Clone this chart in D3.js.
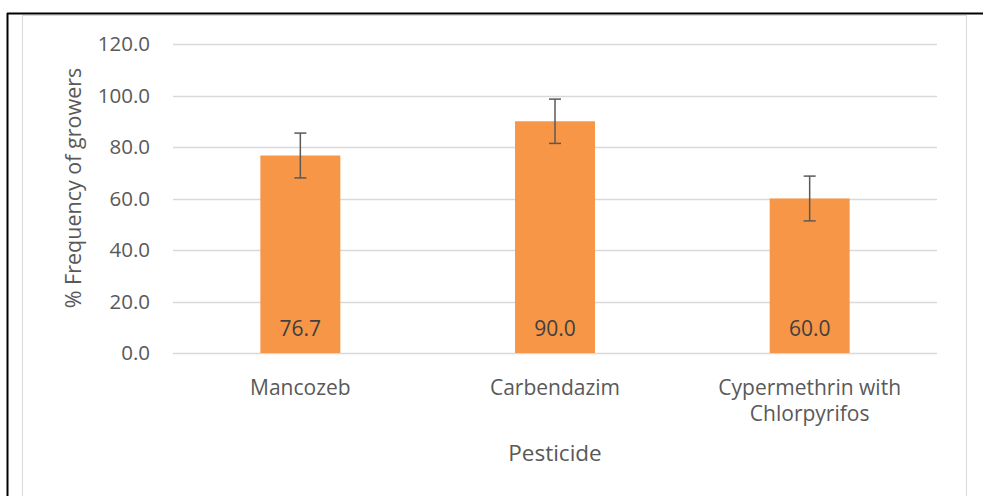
<!DOCTYPE html>
<html lang="en">

<head>
  <meta charset="utf-8">
  <title>Pesticide use</title>
  <script type="text/javascript" src="https://cdn.jsdelivr.net/npm/d3@7"></script>
  <style type="text/css">
    body { margin: 0; background: #fff; }
    text { font-family: "Open Sans", sans-serif; fill: #595959; }
  </style>
</head>

<body>
  <script type="text/javascript">

    // Data
    const pesticides = ["Mancozeb", "Carbendazim", "Cypermethrin with Chlorpyrifos"];
    const frequency = [76.7, 90.0, 60.0];
    const errors = [8.7, 8.6, 8.7];
    const yTicks = [0, 20, 40, 60, 80, 100, 120];

    const w = 983;
    const h = 496;

    const svg = d3.select("body")
      .append("svg")
      .attr("width", w)
      .attr("height", h);

    // table border lines
    svg.append("line")
      .attr("x1", 7).attr("x2", w).attr("y1", 13.5).attr("y2", 13.5)
      .attr("stroke", "#000").attr("stroke-width", 2);
    svg.append("line")
      .attr("x1", 7.5).attr("x2", 7.5).attr("y1", 13).attr("y2", h)
      .attr("stroke", "#000").attr("stroke-width", 2);

    // chart area border
    svg.append("rect")
      .attr("x", 22.5).attr("y", 15.5)
      .attr("width", 944).attr("height", h)
      .attr("fill", "none")
      .attr("stroke", "#d9d9d9");

    const left = 173, right = 937;
    const x = d3.scaleBand()
      .domain(pesticides)
      .range([left, right])
      .paddingInner(0.686)
      .paddingOuter(0.343);

    const y = d3.scaleLinear()
      .domain([0, 120])
      .range([353, 44]);

    // gridlines
    svg.append("g")
      .selectAll("line")
      .data(yTicks)
      .enter()
      .append("line")
      .attr("x1", left).attr("x2", right)
      .attr("y1", function (d) { return Math.round(y(d)) + 0.5; })
      .attr("y2", function (d) { return Math.round(y(d)) + 0.5; })
      .attr("stroke", "#d9d9d9")
      .attr("stroke-width", 1.3);

    // y tick labels
    svg.append("g")
      .selectAll("text")
      .data(yTicks)
      .enter()
      .append("text")
      .attr("x", 150)
      .attr("y", function (d) { return y(d); })
      .attr("dy", "0.36em")
      .attr("text-anchor", "end")
      .style("font-size", "20.5px")
      .text(function (d) { return d.toFixed(1); });

    // bars
    const rows = pesticides.map(function (p, i) {
      return { name: p, value: frequency[i], err: errors[i] };
    });

    svg.append("g")
      .selectAll("rect")
      .data(rows)
      .enter()
      .append("rect")
      .attr("x", function (d) { return x(d.name); })
      .attr("y", function (d) { return y(d.value); })
      .attr("width", x.bandwidth())
      .attr("height", function (d) { return y(0) - y(d.value); })
      .attr("fill", "#f79646");

    // error bars
    const eb = svg.append("g")
      .attr("stroke", "#595959")
      .attr("stroke-width", 1.5);
    rows.forEach(function (d) {
      const cx = x(d.name) + x.bandwidth() / 2;
      eb.append("line")
        .attr("x1", cx).attr("x2", cx)
        .attr("y1", y(d.value + d.err)).attr("y2", y(d.value - d.err));
      [d.value + d.err, d.value - d.err].forEach(function (v) {
        eb.append("line")
          .attr("x1", cx - 6).attr("x2", cx + 6)
          .attr("y1", y(v)).attr("y2", y(v));
      });
    });

    // data labels
    svg.append("g")
      .selectAll("text")
      .data(rows)
      .enter()
      .append("text")
      .attr("x", function (d) { return x(d.name) + x.bandwidth() / 2; })
      .attr("y", 328)
      .attr("dy", "0.36em")
      .attr("text-anchor", "middle")
      .style("font-size", "21px")
      .style("fill", "#404040")
      .text(function (d) { return d.value.toFixed(1); });

    // category labels
    const catLines = {
      "Mancozeb": ["Mancozeb"],
      "Carbendazim": ["Carbendazim"],
      "Cypermethrin with Chlorpyrifos": ["Cypermethrin with", "Chlorpyrifos"]
    };
    svg.append("g")
      .selectAll("text")
      .data(pesticides)
      .enter()
      .append("text")
      .attr("x", function (d) { return x(d) + x.bandwidth() / 2; })
      .attr("y", 387)
      .attr("text-anchor", "middle")
      .style("font-size", "21px")
      .each(function (d) {
        const t = d3.select(this);
        catLines[d].forEach(function (line, i) {
          t.append("tspan")
            .attr("x", x(d) + x.bandwidth() / 2)
            .attr("dy", i === 0 ? "0.36em" : "1.25em")
            .text(line);
        });
      });

    // axis titles
    svg.append("text")
      .attr("x", 555)
      .attr("y", 453)
      .attr("dy", "0.36em")
      .attr("text-anchor", "middle")
      .style("font-size", "22.5px")
      .text("Pesticide");

    svg.append("text")
      .attr("transform", "translate(73,188) rotate(-90)")
      .attr("dy", "0.36em")
      .attr("text-anchor", "middle")
      .style("font-size", "21.5px")
      .text("% Frequency of growers");

  </script>
</body>

</html>
